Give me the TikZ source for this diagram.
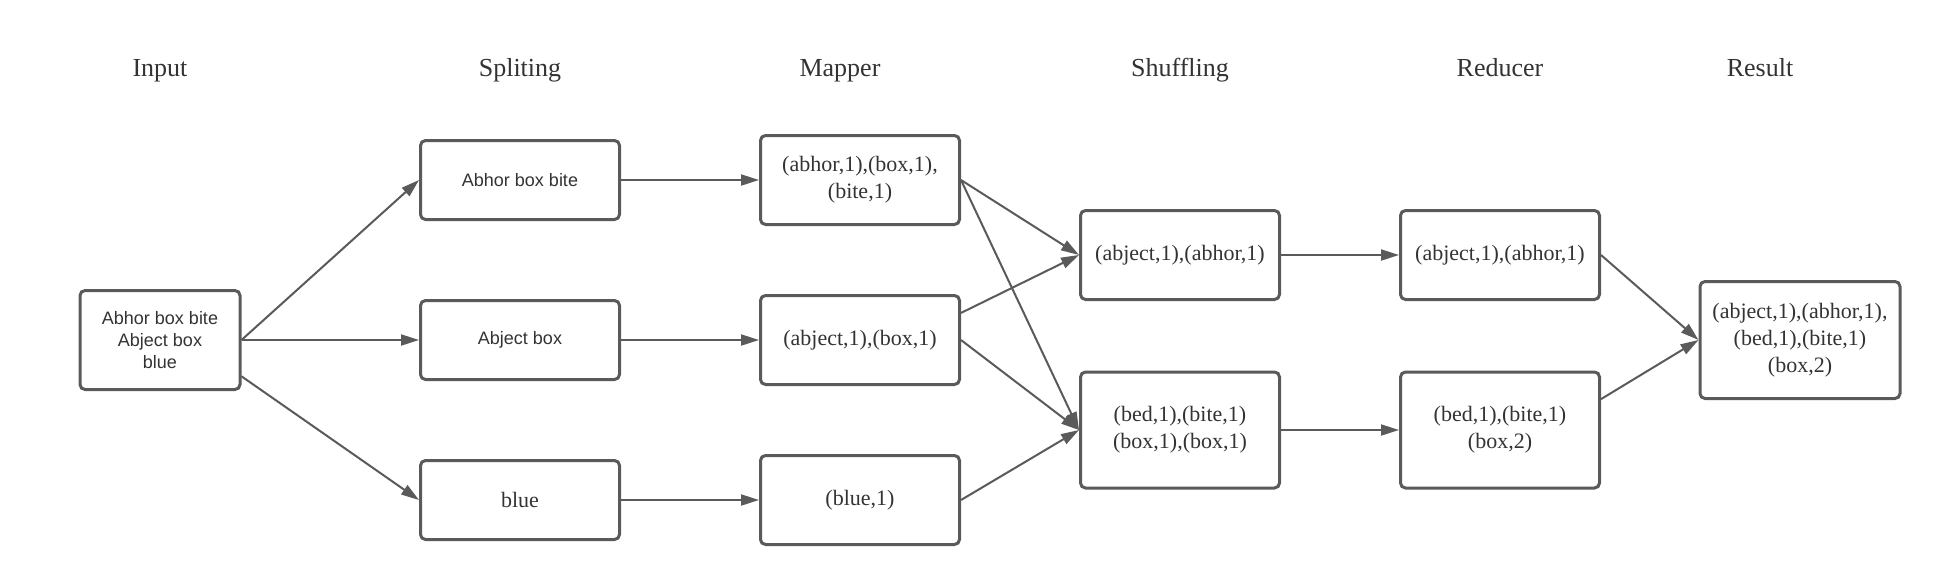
\documentclass[tikz,border=0pt]{standalone}
\usepackage{fontspec}
\setmainfont{Liberation Serif}
\setsansfont{Liberation Sans}
\usetikzlibrary{arrows.meta}
\definecolor{linegray}{HTML}{5A5A5A}
\definecolor{textgray}{HTML}{333333}

\begin{document}
\begin{tikzpicture}[x=0.5pt,y=-0.5pt,
  box/.style={draw=linegray, line width=1.5pt, rounded corners=2.5pt, minimum width=99.5pt, inner sep=0pt, align=center, text=textgray, font=\fontsize{11pt}{13.5pt}\selectfont},
  sbox/.style={box, font=\sffamily\fontsize{9pt}{11.2pt}\selectfont},
  title/.style={anchor=base, text=textgray, font=\fontsize{13pt}{15pt}\selectfont},
  link/.style={draw=linegray, line width=1pt, -{Triangle[length=9pt,width=5.5pt]}}]

\useasboundingbox (0,0) rectangle (1940,585);

\node[title] (tinp) at (160,76.5) {Input};
\node[title] (tspl) at (520,76.5) {Spliting};
\node[title] (tmap) at (840,76.5) {Mapper};
\node[title] (tshu) at (1180,76.5) {Shuffling};
\node[title] (tred) at (1500,76.5) {Reducer};
\node[title] (tres) at (1760,76.5) {Result};

\node[sbox, minimum width=80pt, minimum height=49.5pt] (inp) at (160,340) {Abhor box bite\\Abject box\\blue};

\node[sbox, minimum height=39.5pt] (spl1) at (520,180) {Abhor box bite};
\node[sbox, minimum height=39.5pt] (spl2) at (520,340) {Abject box};
\node[box, minimum height=39.5pt] (spl3) at (520,500) {blue};

\node[box, minimum height=44.5pt] (map1) at (860,180) {(abhor,1),(box,1),\\(bite,1)};
\node[box, minimum height=44.5pt] (map2) at (860,340) {(abject,1),(box,1)};
\node[box, minimum height=44.5pt] (map3) at (860,500) {(blue,1)};

\node[box, minimum height=44.5pt] (shu1) at (1180,255) {(abject,1),(abhor,1)};
\node[box, minimum height=58pt] (shu2) at (1180,430) {(bed,1),(bite,1)\\(box,1),(box,1)};

\node[box, minimum height=44.5pt] (red1) at (1500,255) {(abject,1),(abhor,1)};
\node[box, minimum height=58pt] (red2) at (1500,430) {(bed,1),(bite,1)\\(box,2)};

\node[box, minimum width=100pt, minimum height=58.5pt] (res) at (1800,340) {(abject,1),(abhor,1),\\(bed,1),(bite,1)\\(box,2)};

\draw[link] (inp.east) -- (spl1.west);
\draw[link] (inp.east) -- (spl2.west);
\draw[link] (inp.-24) -- (spl3.west);

\draw[link] (spl1.east) -- (map1.west);
\draw[link] (spl2.east) -- (map2.west);
\draw[link] (spl3.east) -- (map3.west);

\draw[link] (map1.east) -- (shu1.west);
\draw[link] (map1.east) -- (shu2.west);
\draw[link] (map2.15) -- (shu1.west);
\draw[link] (map2.east) -- (shu2.west);
\draw[link] (map3.east) -- (shu2.west);

\draw[link] (shu1.east) -- (red1.west);
\draw[link] (shu2.east) -- (red2.west);

\draw[link] (red1.east) -- (res.west);
\draw[link] (red2.17) -- (res.west);
\end{tikzpicture}
\end{document}
